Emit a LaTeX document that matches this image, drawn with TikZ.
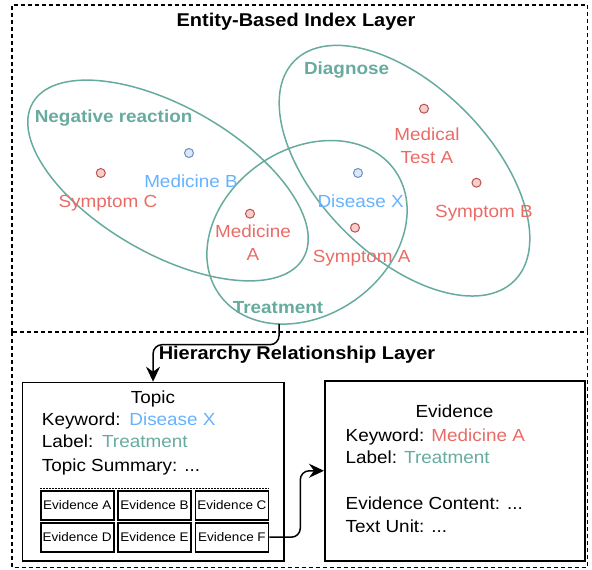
\documentclass[tikz,border=0pt]{standalone}
\usepackage{fontspec}
\setmainfont[FakeStretch=1.08]{Liberation Sans}
\usetikzlibrary{arrows.meta,shapes.geometric}
\definecolor{tred}{HTML}{EA6B66}
\definecolor{tblue}{HTML}{66B2FF}
\definecolor{tteal}{HTML}{67AB9F}
\definecolor{dredf}{HTML}{F8CECC}
\definecolor{dredd}{HTML}{B85450}
\definecolor{dbluef}{HTML}{DAE8FC}
\definecolor{dblued}{HTML}{6C8EBF}
\begin{document}
\begin{tikzpicture}[x=1pt,y=-1pt,
  layerbox/.style={anchor=north west, inner sep=0},
  dashes/.style={line width=1.5pt, dash pattern=on 4pt off 3pt},
  setell/.style={ellipse, draw=tteal, line width=1.5pt, inner sep=0},
  rdot/.style={circle, draw=dredd, fill=dredf, line width=1pt, minimum size=9pt, inner sep=0},
  bdot/.style={circle, draw=dblued, fill=dbluef, line width=1pt, minimum size=9pt, inner sep=0},
  ent/.style={inner sep=0, anchor=base, font=\fontsize{17.5}{23}\selectfont, align=center},
  setlbl/.style={inner sep=0, anchor=base, text=tteal, font=\fontsize{17.5}{21}\selectfont\bfseries},
  ttl/.style={inner sep=0, anchor=base, font=\fontsize{18.5}{21}\selectfont\bfseries},
  bigbox/.style={draw, line width=1.5pt, anchor=north west, inner sep=0},
  line/.style={inner sep=0, anchor=base west, font=\fontsize{17.5}{21}\selectfont},
  cell/.style={draw, line width=1.6pt, minimum width=73pt, minimum height=29pt, inner sep=0, font=\fontsize{12.5}{14}\selectfont},
  arr/.style={line width=1.5pt, -{Stealth[length=15pt,width=14pt,inset=5pt]}}]
\useasboundingbox (0,0) rectangle (592,570);
% layers
\node[layerbox, minimum width=575pt, minimum height=327pt] (toplayer) at (12,5) {};
\node[layerbox, minimum width=575pt, minimum height=235pt] (botlayer) at (12,332) {};
\draw[dashes] (toplayer.south west) |- (toplayer.north east) -- (toplayer.south east);
\draw[dashes] (botlayer.north west) rectangle (botlayer.south east);
\node[ttl] (ttop) at (296,26) {Entity-Based Index Layer};
\node[ttl] (tbot) at (297,359) {Hierarchy Relationship Layer};
% sets
\node[setell, minimum width=312pt, minimum height=147pt, rotate=-29.8] (neg) at (168,180.5) {};
\node[setell, minimum width=311pt, minimum height=170pt, rotate=-45] (diag) at (404.5,170.7) {};
\node[setell, minimum width=215pt, minimum height=166pt, rotate=35] (treat) at (307,232.3) {};
\node[setlbl] (lneg) at (113.6,122) {Negative reaction};
\node[setlbl] (ldiag) at (346.6,74) {Diagnose};
\node[setlbl] (ltreat) at (278,313) {Treatment};
% entities
\node[rdot] (pmta) at (424,108.7) {};
\node[bdot] (pmb) at (189,153) {};
\node[rdot] (psc) at (100.8,173) {};
\node[bdot] (pdx) at (358,173) {};
\node[rdot] (psb) at (476.5,182.7) {};
\node[rdot] (pma) at (250,213.7) {};
\node[rdot] (psa) at (355,227.7) {};
\node[ent, text=tred] (emta) at (427,163) {Medical\\Test A};
\node[ent, text=tblue] (emb) at (191,187) {Medicine B};
\node[ent, text=tred] (esc) at (108,207.7) {Symptom C};
\node[ent, text=tblue] (edx) at (360.6,207.7) {Disease X};
\node[ent, text=tred] (esb) at (484,217.7) {Symptom B};
\node[ent, text=tred] (ema) at (253,260) {Medicine\\A};
\node[ent, text=tred] (esa) at (361.7,262) {Symptom A};
% topic box
\node[bigbox, minimum width=261.4pt, minimum height=178.3pt] (topic) at (21.6,381.7) {};
\node[line, anchor=base] (ttopic) at (153,403) {Topic};
\node[line] (tkw) at (41.7,425) {Keyword:\hspace{0.5em}\textcolor{tblue}{Disease X}};
\node[line] (tlab) at (41.7,447) {Label:\hspace{0.5em}\textcolor{tteal}{Treatment}};
\node[line] (tsum) at (41.7,471) {Topic Summary: ...};
\node[cell] (cA) at (77.2,505.3) {Evidence A};
\node[cell] (cB) at (154.5,505.3) {Evidence B};
\node[cell] (cC) at (232,505.3) {Evidence C};
\node[cell] (cD) at (77.2,537.2) {Evidence D};
\node[cell] (cE) at (154.5,537.2) {Evidence E};
\node[cell] (cF) at (232,537.2) {Evidence F};
\draw[line width=1.5pt, dash pattern=on 2pt off 1pt] ([yshift=1.5pt]cA.north west) -- ([yshift=1.5pt]cC.north east);
% evidence box
\node[bigbox, minimum width=260pt, minimum height=180pt] (evid) at (324,380) {};
\node[line, anchor=base] (tevid) at (454.5,417.7) {Evidence};
\node[line] (ekw) at (345.5,441) {Keyword: \textcolor{tred}{Medicine A}};
\node[line] (elab) at (345.5,463) {Label: \textcolor{tteal}{Treatment}};
\node[line] (econ) at (345.5,509) {Evidence Content: ...};
\node[line] (eunit) at (345.5,532) {Text Unit: ...};
% connectors
\coordinate (tb) at (279,324);
\draw[arr, rounded corners=9pt] (tb) |- ([yshift=37pt]topic.north) -- (topic.north);
\draw[arr, rounded corners=9pt] (cF.east) -- ++(31,0) |- (evid.west);
\end{tikzpicture}
\end{document}
